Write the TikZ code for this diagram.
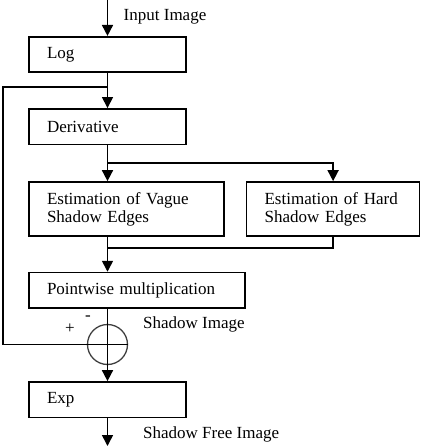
\documentclass[tikz,border=0pt]{standalone}
\usepackage{fontspec}
\setmainfont{Liberation Serif}
\usetikzlibrary{positioning,arrows.meta}

\begin{document}
\begin{tikzpicture}
	\tikzset{module/.style={draw,
				rectangle,
				line width=1.6pt,
				inner xsep=18pt,
				minimum height=35.5pt,
				text width=121pt,
				align=left,
				font=\fontsize{17}{18}\selectfont},
			sum/.style={draw=black!75,
				circle,
				line width=1.3pt,
				inner sep=0pt,
				minimum size=40pt},
			tag/.style={inner sep=0pt,
				font=\fontsize{17}{18}\selectfont},
			line/.style={line width=1.6pt},
			arrow/.style={-{Stealth[length=11pt,width=11pt,inset=0pt]},
				line width=1.6pt}}
	\useasboundingbox (0,0) rectangle (420pt,-446pt);
	% Nodes
	\node[module] (log) at (107.5pt,-54.5pt) {Log};
	\node[module, below=35pt of log] (deriv) {Derivative};
	\node[module, text width=159pt, minimum height=54pt, below=36pt of deriv.south west, anchor=north west] (vague) {Estimation of Vague\\Shadow Edges};
	\node[module, text width=137pt, minimum height=54pt, right=21pt of vague] (hard) {Estimation of Hard\\Shadow Edges};
	\node[module, text width=180pt, below=35pt of vague.south west, anchor=north west] (point) {Pointwise multiplication};
	\coordinate (tap) at (point.south -| log.south);
	\node[sum, below=15pt of tap] (sum) {};
	\node[module, below=16pt of sum] (exp) {Exp};
	
	% Labels
	\coordinate (in) at (log.north |- 0,0);
	\coordinate (out) at (exp.south |- 0,-446pt);
	\node[tag, anchor=west] (inlbl) at ([shift={(16pt,-17pt)}]in) {Input Image};
	\node[tag, anchor=west] (shlbl) at ([shift={(35.5pt,-1pt)}]sum.north) {Shadow Image};
	\node[tag, anchor=west] (freelbl) at ([shift={(35.5pt,-16pt)}]exp.south) {Shadow Free Image};
	\node[tag] (plus) at ([shift={(-37.5pt,16pt)}]sum.center) {+};
	\node[tag] (minus) at ([shift={(-19.5pt,26pt)}]sum.center) {-};
	
	% Arrows
	\coordinate[below=14pt of log.south] (split);
	\path (split -| log.west) ++(-25pt,0) coordinate (fb);
	\coordinate[below=18pt of deriv.south] (branch);
	\coordinate[below=11pt of hard.south] (hardout);
	\draw[arrow] (in) -- (log);
	\draw[arrow] (log) -- (deriv);
	\draw[line] (deriv) -- (branch);
	\draw[arrow] (branch) -- (branch |- vague.north);
	\draw[arrow] (branch) -| (hard);
	\draw[line] (hard) -- (hardout) -- (hardout -| branch);
	\draw[arrow] (branch |- vague.south) -- (branch |- point.north);
	\draw[line] (tap) -- (sum.south);
	\draw[line] (split) -- (fb) |- (sum.east);
	\draw[arrow] (sum) -- (exp);
	\draw[arrow] (exp) -- (out);
\end{tikzpicture}
\end{document}
